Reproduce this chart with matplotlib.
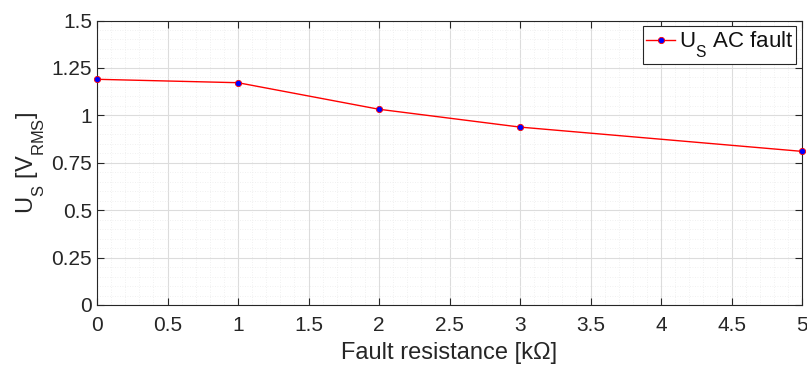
import matplotlib
matplotlib.use("Agg")
import matplotlib.pyplot as plt
import numpy as np
from matplotlib.ticker import MultipleLocator

try:
    import matplotlib._mathtext as _mt
    _mt.FontConstantsBase.sub1 = 0.9
    _mt.FontConstantsBase.subdrop = 0.9
except Exception:
    pass

plt.rcParams['font.family'] = ['Liberation Sans', 'DejaVu Sans']
plt.rcParams['mathtext.fontset'] = 'custom'
plt.rcParams['mathtext.rm'] = 'Liberation Sans'
plt.rcParams['mathtext.it'] = 'Liberation Sans'

resistance_kohm = [0, 1, 2, 3, 5]
us_ac_fault = [1.19, 1.172, 1.032, 0.938, 0.81]
x_ticks = [0, 0.5, 1, 1.5, 2, 2.5, 3, 3.5, 4, 4.5, 5]
y_ticks = [0, 0.25, 0.5, 0.75, 1, 1.25, 1.5]
y_tick_labels = ['0', '0.25', '0.5', '0.75', '1', '1.25', '1.5']
x_tick_labels = ['0', '0.5', '1', '1.5', '2', '2.5', '3', '3.5', '4', '4.5', '5']

fig = plt.figure(figsize=(8.07, 3.65), dpi=100)
ax = fig.add_axes([97/807, 1 - 305/365, (802 - 97)/807, (305 - 20.5)/365])

ax.plot(resistance_kohm, us_ac_fault, color='red', lw=1.0, marker='o', ms=4.5,
        markerfacecolor='blue', markeredgecolor='red', markeredgewidth=0.6,
        label=r'U$_\mathrm{S}$ AC fault', clip_on=False, zorder=3)

ax.set_xlim(0, 5)
ax.set_ylim(0, 1.5)
ax.set_xticks(x_ticks)
ax.set_xticklabels(x_tick_labels)
ax.set_yticks(y_ticks)
ax.set_yticklabels(y_tick_labels)
ax.xaxis.set_minor_locator(MultipleLocator(0.1))
ax.yaxis.set_minor_locator(MultipleLocator(0.05))
ax.grid(which='major', color='#dcdcdc', lw=0.8)
ax.grid(which='minor', color='#ececec', lw=0.6, ls=(0, (1, 2)))
ax.set_axisbelow(True)

ax.tick_params(which='major', direction='in', length=5, width=0.8, top=True, right=True,
               labelsize=15, colors='#262626', labelcolor='#262626')
ax.tick_params(axis='x', which='major', pad=8)
ax.tick_params(axis='y', which='major', pad=3.5)
ax.tick_params(which='minor', length=0, top=True, right=True)
for s in ax.spines.values():
    s.set_color('#262626')
    s.set_linewidth(0.8)

ax.set_xlabel('Fault resistance [kΩ]', fontsize=17, color='#262626', labelpad=5)
ax.set_ylabel(r'U$_\mathrm{S}$ [V$_\mathrm{RMS}$]', fontsize=17, color='#262626', labelpad=3)

leg = ax.legend(loc='upper right', fontsize=16, frameon=True, fancybox=False,
                edgecolor='#262626', handlelength=1.3, handletextpad=0.15,
                borderpad=0.15, borderaxespad=0.25, framealpha=1)
leg.get_frame().set_linewidth(0.8)
for t in leg.get_texts():
    t.set_color('#111111')

fig.savefig('out.png', dpi=100)
